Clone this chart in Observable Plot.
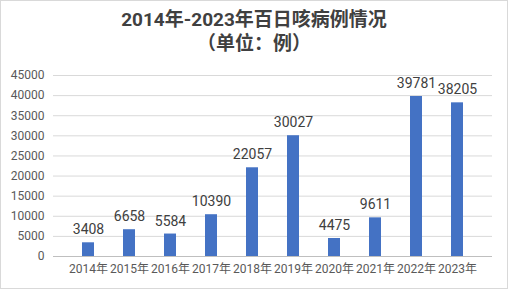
<!DOCTYPE html>
<html><head><meta charset="utf-8">
<script src="https://cdn.jsdelivr.net/npm/d3@7"></script>
<script src="https://cdn.jsdelivr.net/npm/@observablehq/plot@0.6"></script>
<style>
html,body{margin:0;padding:0;background:#fff;}
#wrap{position:relative;width:506px;height:287px;border:1px solid #d9d9d9;font-family:Roboto,"Noto Sans CJK SC",sans-serif;overflow:hidden;}
#title{position:absolute;top:7px;left:0;width:506px;text-align:center;font-size:19px;font-weight:bold;color:#404040;line-height:24px;}
#chart{position:absolute;top:59px;left:0;}
</style></head>
<body><div id="wrap"><div id="title">2014年-2023年百日咳病例情况<br>（单位：例）</div><div id="chart"></div></div>
<script>
const years = ["2014年","2015年","2016年","2017年","2018年","2019年","2020年","2021年","2022年","2023年"];
const cases = [3408,6658,5584,10390,22057,30027,4475,9611,39781,38205];
const yTicks = [0,5000,10000,15000,20000,25000,30000,35000,40000,45000];
const data = years.map((y,i)=>({year:y,value:cases[i]}));
const chart = Plot.plot({
  width:506, height:228,
  marginTop:15, marginBottom:32, marginLeft:52, marginRight:15,
  style:{fontFamily:'Roboto,"Noto Sans CJK SC",sans-serif', background:"transparent"},
  x:{domain:years, padding:0.7, label:null},
  y:{domain:[0,45000], label:null},
  marks:[
    Plot.gridY(yTicks,{stroke:"#d9d9d9", strokeOpacity:1}),
    Plot.barY(data,{x:"year", y:"value", fill:"#4472C4"}),
    Plot.ruleY([0],{stroke:"#bfbfbf"}),
    Plot.text(data,{x:"year", y:"value", text:d=>String(d.value), dy:-13, fontSize:14, fill:"#404040"}),
    Plot.axisY(yTicks,{tickSize:0, tickPadding:9, fontSize:12, fill:"#595959", tickFormat:d=>String(d), label:null}),
    Plot.axisX({tickSize:0, tickPadding:8, fontSize:12, fill:"#595959", label:null})
  ]
});
document.getElementById("chart").appendChild(chart);
</script></body></html>
